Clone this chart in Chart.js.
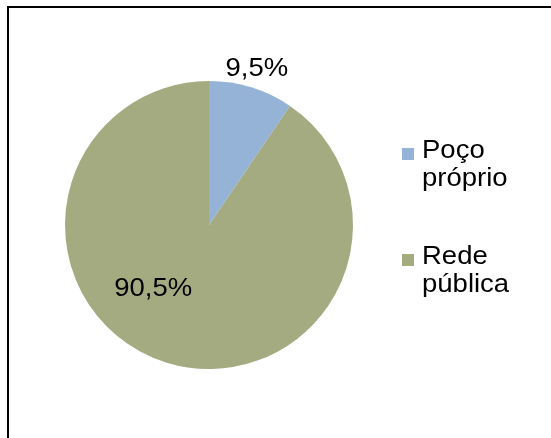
<!DOCTYPE html>
<html>
<head>
<meta charset="utf-8">
<script src="https://cdn.jsdelivr.net/npm/chart.js@4.4.0/dist/chart.umd.min.js"></script>
<style>
  html, body { margin: 0; padding: 0; background: #fff; }
  #wrap { width: 551px; height: 438px; }
</style>
</head>
<body>
<div id="wrap"><canvas id="myChart" width="551" height="438"></canvas></div>
<script>
const categorias = [['Poço', 'próprio'], ['Rede', 'pública']];
const valores = [9.5, 90.5];
const rotulos = ['9,5%', '90,5%'];
const cores = ['#95B3D7', '#A4AB81'];

const fonte = '25px "Liberation Sans", Arial, sans-serif';
const esticar = 1.1; // o texto da figura original está um pouco alargado

const texto = (c, t, x, y, align, base) => {
  c.save();
  c.translate(x, y);
  c.scale(esticar, 1);
  c.textAlign = align;
  c.textBaseline = base;
  c.fillText(t, 0, 0);
  c.restore();
};

// moldura (só topo e esquerda) + rótulos + legenda
const extras = {
  id: 'extras',
  beforeDraw(chart) {
    const c = chart.ctx;
    c.save();
    c.fillStyle = '#fff';
    c.fillRect(0, 0, chart.width, chart.height);
    c.strokeStyle = '#000';
    c.lineWidth = 2;
    c.beginPath();
    c.moveTo(8, chart.height);
    c.lineTo(8, 7);
    c.lineTo(chart.width, 7);
    c.stroke();
    c.restore();
  },
  afterDraw(chart) {
    const c = chart.ctx;
    const arcs = chart.getDatasetMeta(0).data;
    c.save();
    c.font = fonte;
    c.fillStyle = '#000';
    // rótulo 0 fora da fatia, rótulo 1 dentro
    const pos = [{ f: 1.13, ang: null }, { f: 0.59, ang: 131 }];
    arcs.forEach((a, i) => {
      const mid = pos[i].ang !== null ? pos[i].ang * Math.PI / 180 : (a.startAngle + a.endAngle) / 2;
      const r = a.outerRadius * pos[i].f;
      texto(c, rotulos[i], a.x + Math.cos(mid) * r, a.y + Math.sin(mid) * r, 'center', 'middle');
    });
    // legenda
    const topo = [158, 264];
    categorias.forEach((linhas, i) => {
      c.fillStyle = cores[i];
      c.fillRect(402, topo[i] - 10, 12, 12);
      c.fillStyle = '#000';
      linhas.forEach((t, j) => texto(c, t, 422, topo[i] + j * 28, 'left', 'alphabetic'));
    });
    c.restore();
  }
};

const ctx = document.getElementById('myChart').getContext('2d');
const myChart = new Chart(ctx, {
  type: 'pie',
  data: {
    labels: categorias.map(l => l.join(' ')),
    datasets: [{
      data: valores,
      backgroundColor: cores,
      borderWidth: 0
    }]
  },
  options: {
    responsive: false,
    animation: false,
    layout: { padding: { left: 65, top: 81, right: 198, bottom: 69 } },
    plugins: {
      legend: { display: false },
      tooltip: { enabled: false }
    }
  },
  plugins: [extras]
});
</script>
</body>
</html>
